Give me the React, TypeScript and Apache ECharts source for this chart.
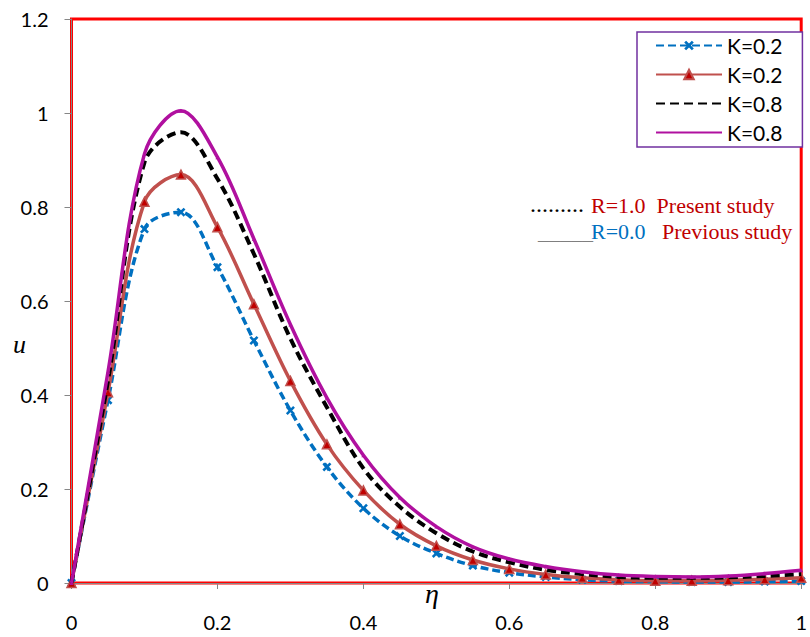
import React, { useEffect, useRef } from "react";
import * as echarts from "echarts";

const etaValues = [0, 0.05, 0.1, 0.15, 0.2, 0.25, 0.3, 0.35, 0.4, 0.45, 0.5, 0.55, 0.6, 0.65, 0.7, 0.75, 0.8, 0.85, 0.9, 0.95, 1.0];
const blueK02 = [0, 0.389, 0.753, 0.789, 0.672, 0.516, 0.367, 0.247, 0.159, 0.1, 0.063, 0.037, 0.022, 0.013, 0.007, 0.004, 0.003, 0.002, 0.002, 0.003, 0.004];
const redK02 = [0, 0.406, 0.811, 0.869, 0.757, 0.593, 0.43, 0.295, 0.197, 0.125, 0.079, 0.049, 0.03, 0.018, 0.011, 0.007, 0.005, 0.005, 0.006, 0.008, 0.011];
const blackK08 = [0, 0.43, 0.895, 0.959, 0.86, 0.7, 0.52, 0.374, 0.244, 0.162, 0.106, 0.067, 0.044, 0.028, 0.019, 0.013, 0.011, 0.011, 0.012, 0.015, 0.019];
const magentaK08 = [0, 0.449, 0.913, 1.005, 0.906, 0.732, 0.55, 0.394, 0.272, 0.182, 0.12, 0.077, 0.051, 0.035, 0.024, 0.017, 0.014, 0.013, 0.015, 0.02, 0.027];
const seriesNames = ["K=0.2", "K=0.2 ", "K=0.8", "K=0.8 "];

const zip = (ys: number[]) => etaValues.map((x, i) => [x, ys[i]]);

const crossPath =
  "path://M2,0 L5,3 L8,0 L10,2 L7,5 L10,8 L8,10 L5,7 L2,10 L0,8 L3,5 L0,2 Z";

export default function App() {
  const ref = useRef<HTMLDivElement>(null);
  useEffect(() => {
    if (!ref.current) return;
    const chart = echarts.init(ref.current, undefined, { renderer: "svg" });
    const tickFont = { fontFamily: "Lato", fontSize: 20, color: "#000" };
    const serif = "Liberation Serif";
    const hiddenSymbol = { color: "transparent", borderWidth: 0, opacity: 0 };
    chart.setOption({
      animation: false,
      backgroundColor: "#fff",
      grid: {
        left: 71.5,
        top: 19,
        right: 1.5,
        bottom: 54,
        show: true,
        borderColor: "#FF0000",
        borderWidth: 3,
        backgroundColor: "transparent",
      },
      xAxis: {
        type: "value",
        min: 0,
        max: 1,
        interval: 0.2,
        splitLine: { show: false },
        axisLine: { show: true, onZero: false, lineStyle: { color: "#868686", width: 1 } },
        axisTick: { show: true, length: 6, lineStyle: { color: "#868686" } },
        axisLabel: { ...tickFont, margin: 29 },
      },
      yAxis: {
        type: "value",
        min: 0,
        max: 1.2,
        interval: 0.2,
        splitLine: { show: false },
        axisLine: { show: true, onZero: false, lineStyle: { color: "#868686", width: 1 } },
        axisTick: { show: true, length: 7, lineStyle: { color: "#868686" } },
        axisLabel: { ...tickFont, margin: 23 },
      },
      legend: {
        orient: "vertical",
        left: 637,
        top: 32,
        padding: [3, 20, 4, 18],
        itemWidth: 66,
        itemHeight: 12,
        itemGap: 8,
        borderColor: "#7030A0",
        borderWidth: 1.5,
        backgroundColor: "#fff",
        formatter: (n: string) => n.trim(),
        textStyle: { fontFamily: "Lato", fontSize: 21, color: "#000", lineHeight: 20 },
        data: [
          { name: seriesNames[0] },
          { name: seriesNames[1] },
          { name: seriesNames[2], itemStyle: hiddenSymbol },
          { name: seriesNames[3], itemStyle: hiddenSymbol },
        ],
      },
      graphic: [
        { type: "text", x: 19.5, y: 344.5, style: { text: "u", font: `italic 26px "${serif}"`, fill: "#000", textAlign: "center", textVerticalAlign: "middle" } },
        { type: "text", x: 432, y: 593, style: { text: "η", font: `italic 28px "${serif}"`, fill: "#000", textAlign: "center", textVerticalAlign: "middle" } },
        { type: "text", x: 530, y: 204, style: { text: ".........", font: `24px "${serif}"`, fill: "#000", textAlign: "left", textVerticalAlign: "middle" } },
        { type: "text", x: 591, y: 205, style: { text: "R=1.0  Present study", font: `22px "${serif}"`, fill: "#C00000", textAlign: "left", textVerticalAlign: "middle" } },
        { type: "text", x: 538, y: 231, style: { text: "_____", font: `22px "${serif}"`, fill: "#7F7F7F", textAlign: "left", textVerticalAlign: "middle" } },
        { type: "text", x: 591, y: 231, style: { text: "R=0.0", font: `22px "${serif}"`, fill: "#0070C0", textAlign: "left", textVerticalAlign: "middle" } },
        { type: "text", x: 662, y: 231, style: { text: "Previous study", font: `22px "${serif}"`, fill: "#C00000", textAlign: "left", textVerticalAlign: "middle" } },
      ],
      series: [
        {
          name: seriesNames[0],
          type: "line",
          data: zip(blueK02),
          smooth: 0.35,
          symbol: crossPath,
          symbolSize: 9,
          itemStyle: { color: "#0070C0" },
          lineStyle: { color: "#0070C0", width: 3.5, type: [8, 4] },
          z: 2,
        },
        {
          name: seriesNames[1],
          type: "line",
          data: zip(redK02),
          smooth: 0.35,
          symbol: "triangle",
          symbolSize: 9,
          itemStyle: { color: "#C00000", borderColor: "#C0504D", borderWidth: 1.5 },
          lineStyle: { color: "#C0504D", width: 3.5 },
          z: 3,
        },
        {
          name: seriesNames[2],
          type: "line",
          data: zip(blackK08),
          smooth: 0.35,
          symbol: "none",
          itemStyle: { color: "#000" },
          lineStyle: { color: "#000", width: 4, type: [9, 5] },
          z: 4,
        },
        {
          name: seriesNames[3],
          type: "line",
          data: zip(magentaK08),
          smooth: 0.35,
          symbol: "triangle",
          symbolSize: 4,
          itemStyle: { color: "#B0109F" },
          lineStyle: { color: "#B0109F", width: 3.5 },
          z: 5,
        },
      ],
    });
    return () => chart.dispose();
  }, []);
  return <div ref={ref} style={{ width: 810, height: 637, position: "absolute", left: 0, top: 0 }} />;
}
